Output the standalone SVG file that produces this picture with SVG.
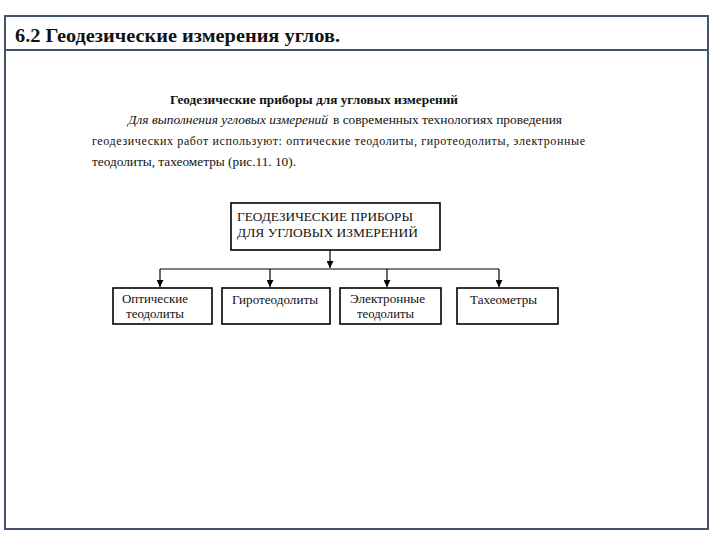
<svg xmlns="http://www.w3.org/2000/svg" width="720" height="540" viewBox="0 0 720 540">
<defs>
<style>
.frame{fill:none;stroke:#44546c;stroke-width:2}
.box{fill:#fff;stroke:#000;stroke-width:1.6}
.ln{fill:none;stroke:#000;stroke-width:1.2}
text{font-family:'Liberation Serif','DejaVu Serif',serif;fill:#111}
.ttl{font-size:18px;font-weight:bold}
.hd{font-size:12.5px;font-weight:bold}
.p{font-size:12px}
.bt{font-size:12.5px}
</style>
<marker id="ah" viewBox="0 0 10 10" refX="10" refY="5" markerWidth="7" markerHeight="7" markerUnits="userSpaceOnUse" orient="auto">
<path d="M0,0 L10,5 L0,10 z" fill="#000"/>
</marker>
</defs>
<rect x="0" y="0" width="720" height="540" fill="#fff"/>
<g id="frame">
<rect class="frame" x="5" y="16" width="703" height="513"/>
<line class="frame" x1="5" y1="50" x2="708" y2="50"/>
<text class="ttl" x="15" y="42" font-family="Liberation Serif, serif" textLength="325" lengthAdjust="spacingAndGlyphs">6.2  Геодезические измерения углов.</text>
</g>
<g id="text">
<text class="hd" x="170" y="104" textLength="288" lengthAdjust="spacingAndGlyphs">Геодезические приборы для угловых измерений</text>
<text class="p" x="128" y="124" font-style="italic" textLength="200" lengthAdjust="spacingAndGlyphs">Для выполнения угловых измерений</text>
<text class="p" x="333" y="124" textLength="229" lengthAdjust="spacingAndGlyphs">в современных  технологиях проведения</text>
<text class="p" x="92" y="145" textLength="493" lengthAdjust="spacing">геодезических  работ используют: оптические  теодолиты, гиротеодолиты, электронные</text>
<text class="p" x="92" y="166" textLength="204" lengthAdjust="spacingAndGlyphs">теодолиты, тахеометры  (рис.11. 10).</text>
</g>
<g id="connectors">
<line class="ln" x1="330" y1="250" x2="330" y2="268" marker-end="url(#ah)"/>
<line class="ln" x1="160" y1="269" x2="499" y2="269"/>
<line class="ln" x1="160" y1="269" x2="160" y2="287" marker-end="url(#ah)"/>
<line class="ln" x1="270" y1="269" x2="270" y2="287" marker-end="url(#ah)"/>
<line class="ln" x1="387" y1="269" x2="387" y2="287" marker-end="url(#ah)"/>
<line class="ln" x1="499" y1="269" x2="499" y2="287" marker-end="url(#ah)"/>
</g>
<g id="root">
<rect class="box" x="231" y="203" width="209" height="47"/>
<text class="bt" x="237" y="221" textLength="176" lengthAdjust="spacingAndGlyphs">ГЕОДЕЗИЧЕСКИЕ ПРИБОРЫ</text>
<text class="bt" x="237" y="237" textLength="181" lengthAdjust="spacingAndGlyphs">ДЛЯ УГЛОВЫХ ИЗМЕРЕНИЙ</text>
</g>
<g id="optical">
<rect class="box" x="113" y="288" width="99" height="36"/>
<text class="bt" x="122" y="303" textLength="66" lengthAdjust="spacingAndGlyphs">Оптические</text>
<text class="bt" x="126" y="318" textLength="58" lengthAdjust="spacingAndGlyphs">теодолиты</text>
</g>
<g id="gyro">
<rect class="box" x="222" y="288" width="108" height="36"/>
<text class="bt" x="232" y="304" textLength="86" lengthAdjust="spacingAndGlyphs">Гиротеодолиты</text>
</g>
<g id="electronic">
<rect class="box" x="340" y="288" width="101" height="36"/>
<text class="bt" x="350" y="303" textLength="75" lengthAdjust="spacingAndGlyphs">Электронные</text>
<text class="bt" x="357" y="318" textLength="57" lengthAdjust="spacingAndGlyphs">теодолиты</text>
</g>
<g id="tacheometer">
<rect class="box" x="457" y="288" width="101" height="36"/>
<text class="bt" x="470" y="304" textLength="67" lengthAdjust="spacingAndGlyphs">Тахеометры</text>
</g>
</svg>
